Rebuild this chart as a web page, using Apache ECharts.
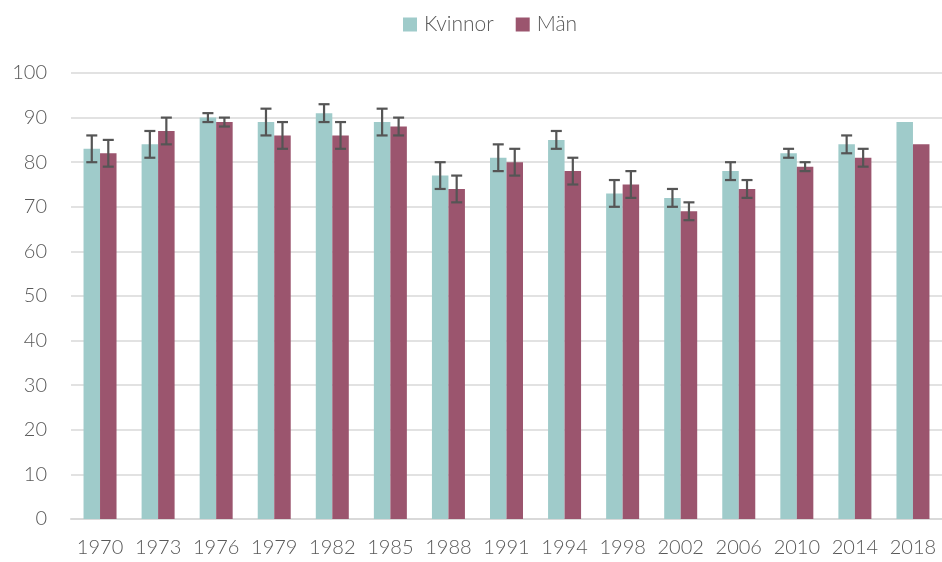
<!DOCTYPE html>
<html>
<head>
<meta charset="utf-8">
<script src="https://cdn.jsdelivr.net/npm/echarts@6/dist/echarts.min.js"></script>
<style>
  html, body { margin: 0; padding: 0; background: #fff; }
  #chart { width: 942px; height: 562px; }
</style>
</head>
<body>
<div id="chart"></div>
<script>
const years = ["1970", "1973", "1976", "1979", "1982", "1985", "1988", "1991", "1994", "1998", "2002", "2006", "2010", "2014", "2018"];
const kvinnor = [83, 84, 90, 89, 91, 89, 77, 81, 85, 73, 72, 78, 82, 84, 89];
const man = [82, 87, 89, 86, 86, 88, 74, 80, 78, 75, 69, 74, 79, 81, 84];
// felmarginal (+/-), null = ingen
const kvinnorErr = [3, 3, 1, 3, 2, 3, 3, 3, 2, 3, 2, 2, 1, 2, null];
const manErr = [3, 3, 1, 3, 3, 2, 3, 3, 3, 3, 2, 2, 1, 2, null];

const barW = 16.5;
const font = "Lato";
const textColor = "#595959";

function errorSeries(values, errs, side) {
  const data = values.map((v, i) => [i, v, errs[i]]).filter(d => d[2] != null);
  return {
    type: "custom",
    silent: true,
    z: 10,
    data: data,
    renderItem: (params, api) => {
      const i = api.value(0);
      const v = api.value(1);
      const e = api.value(2);
      const top = api.coord([i, v + e]);
      const bot = api.coord([i, v - e]);
      const x = top[0] + side * barW / 2;
      const cap = 5.5;
      const style = { stroke: "#555555", lineWidth: 2.2 };
      return {
        type: "group",
        children: [
          { type: "line", shape: { x1: x, y1: top[1], x2: x, y2: bot[1] }, style },
          { type: "line", shape: { x1: x - cap, y1: top[1], x2: x + cap, y2: top[1] }, style },
          { type: "line", shape: { x1: x - cap, y1: bot[1], x2: x + cap, y2: bot[1] }, style },
        ],
      };
    },
  };
}

const chart = echarts.init(document.getElementById("chart"));
chart.setOption({
  backgroundColor: "#fff",
  animation: false,
  legend: {
    top: 9,
    left: 398,
    itemWidth: 14,
    itemHeight: 14,
    itemGap: 22,
    icon: "rect",
    data: ["Kvinnor", "Män"],
    textStyle: { fontFamily: font, fontWeight: 300, fontSize: 21, color: textColor, padding: [0, 0, 0, 2] },
  },
  grid: { left: 71, top: 73, width: 876, height: 446, containLabel: false },
  xAxis: {
    type: "category",
    data: years,
    axisLine: { lineStyle: { color: "#D9D9D9", width: 2 } },
    axisTick: { show: false },
    axisLabel: { interval: 0, fontFamily: font, fontWeight: 300, fontSize: 20, color: textColor, margin: 19 },
  },
  yAxis: {
    type: "value",
    min: 0,
    max: 100,
    interval: 10,
    axisLine: { show: false },
    axisTick: { show: false },
    splitLine: { lineStyle: { color: "#D9D9D9", width: 1.5 } },
    axisLabel: { fontFamily: font, fontWeight: 300, fontSize: 20, color: textColor, margin: 24 },
  },
  series: [
    { name: "Kvinnor", type: "bar", data: kvinnor, barWidth: barW, barGap: "0%",
      itemStyle: { color: "#9FCBCA" } },
    { name: "Män", type: "bar", data: man, barWidth: barW, barGap: "0%",
      itemStyle: { color: "#9B556E" } },
    errorSeries(kvinnor, kvinnorErr, -1),
    errorSeries(man, manErr, 1),
  ],
});
</script>
</body>
</html>
